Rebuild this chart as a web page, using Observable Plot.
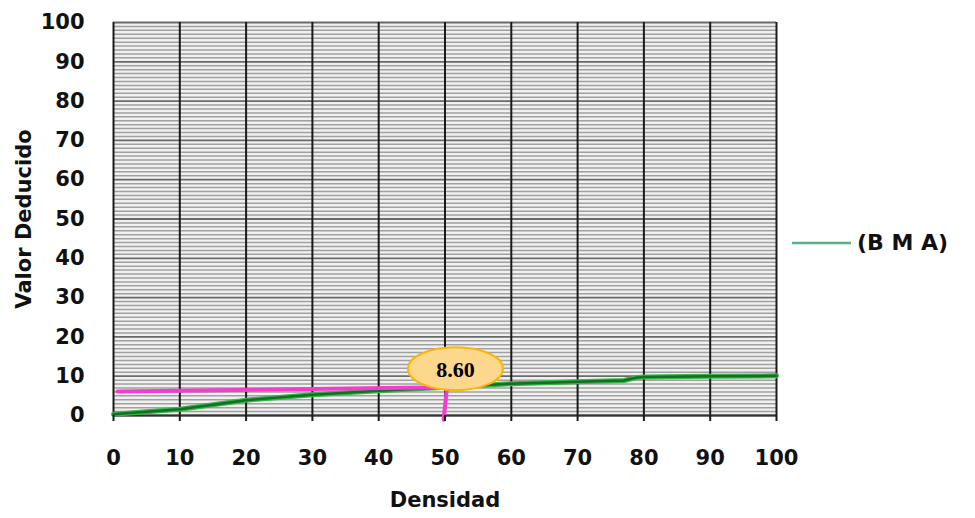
<!DOCTYPE html>
<html>
<head>
<meta charset="utf-8">
<script src="https://cdn.jsdelivr.net/npm/d3@7"></script>
<script src="https://cdn.jsdelivr.net/npm/@observablehq/plot@0.6"></script>
<style>
  body { margin: 0; background: #fff; }
  #chart { position: relative; width: 975px; height: 518px; }
  .legend { position: absolute; left: 791px; top: 230px; display: flex; align-items: center;
            font: bold 22px "DejaVu Sans", sans-serif; color: #111; }
  .legend svg { margin-right: 5px; }
</style>
</head>
<body>
<div id="chart"></div>
<script>
// Deduct-value curve for the (B M A) distress, read against density (%)
const densidad      = [0,   10,  20,  30,  40,  50,  60,  70,  77,  79,  80,  90,   100];
const valorDeducido = [0.3, 1.6, 3.9, 5.3, 6.3, 7.2, 8.1, 8.6, 8.9, 9.7, 9.8, 10.0, 10.1];

// Reading lines drawn by hand on the chart (density 50)
const lecturaHorizX = [0.6, 50];
const lecturaHorizY = [6.1, 7.2];
const lecturaVertX  = [50.3, 49.8];
const lecturaVertY  = [7.2, -1.1];

// Callout with the value
const etiquetaX = 50;
const etiquetaY = 8.60;
const etiquetaTexto = "8.60";

// Axes
const xTicks = [0, 10, 20, 30, 40, 50, 60, 70, 80, 90, 100];
const yTicks = [0, 10, 20, 30, 40, 50, 60, 70, 80, 90, 100];
const serieNombre = "(B M A)";

const curva = densidad.map((d, i) => ({x: d, y: valorDeducido[i]}));
const horiz = lecturaHorizX.map((d, i) => ({x: d, y: lecturaHorizY[i]}));
const vert  = lecturaVertX.map((d, i) => ({x: d, y: lecturaVertY[i]}));
const etiqueta = [{x: etiquetaX, y: etiquetaY, t: etiquetaTexto}];

// Ellipse-shaped symbol for the callout bubble
const ellipse = {
  draw(context) {
    const rx = 47.5, ry = 21.5, k = 0.5523;
    context.moveTo(rx, 0);
    context.bezierCurveTo(rx, ry * k, rx * k, ry, 0, ry);
    context.bezierCurveTo(-rx * k, ry, -rx, ry * k, -rx, 0);
    context.bezierCurveTo(-rx, -ry * k, -rx * k, -ry, 0, -ry);
    context.bezierCurveTo(rx * k, -ry, rx, -ry * k, rx, 0);
    context.closePath();
  }
};

const minor = d3.range(1, 100).filter(v => v % 10 !== 0);

const chart = Plot.plot({
  width: 975,
  height: 518,
  marginLeft: 113,
  marginRight: 199,
  marginTop: 22,
  marginBottom: 103,
  x: {domain: [0, 100]},
  y: {domain: [0, 100]},
  style: {fontFamily: "DejaVu Sans, sans-serif", fontSize: "21px", fontWeight: "bold", color: "#111", background: "#fff"},
  marks: [
    Plot.frame({fill: "#f0f0f0", stroke: null}),
    Plot.ruleY(minor, {stroke: "#a0a0a0", strokeWidth: 1.5}),
    Plot.ruleY(yTicks, {stroke: "#6a6a6a", strokeWidth: 1.8}),
    Plot.ruleX(xTicks, {stroke: "#1a1a1a", strokeWidth: 2}),
    Plot.ruleY([0], {stroke: "#333", strokeWidth: 2}),
    // green curve: soft outer stroke plus darker core
    Plot.line(curva, {x: "x", y: "y", stroke: "#36b447", strokeWidth: 5}),
    Plot.line(curva, {x: "x", y: "y", stroke: "#146e24", strokeWidth: 2.5}),
    Plot.line(horiz, {x: "x", y: "y", stroke: "#f23dd0", strokeWidth: 4}),
    Plot.line(vert,  {x: "x", y: "y", stroke: "#f23dd0", strokeWidth: 4}),
    Plot.dot(etiqueta, {x: "x", y: "y", symbol: ellipse, r: 10, dx: 10.5, dy: -13,
                        fill: "#fdd88c", stroke: "#f5b80a", strokeWidth: 2}),
    Plot.text(etiqueta, {x: "x", y: "y", text: "t", dx: 10.5, dy: -12,
                         fontFamily: "Liberation Serif, serif", fontWeight: "bold", fontSize: 22, fill: "#000"}),
    Plot.axisX({ticks: xTicks, tickSize: 6, tickPadding: 29, strokeWidth: 2, stroke: "#1a1a1a",
                label: "Densidad", labelAnchor: "center", labelOffset: 91, labelArrow: "none"}),
    Plot.axisY({ticks: yTicks, tickSize: 0, tickPadding: 29,
                label: "Valor Deducido", labelAnchor: "center", labelOffset: 97, labelArrow: "none"})
  ]
});

const root = document.getElementById("chart");
root.appendChild(chart);

// Series legend to the right of the plot
const legend = document.createElement("div");
legend.className = "legend";
legend.innerHTML = `<svg width="61" height="24"><line x1="1" x2="60" y1="12" y2="12" stroke="#52b386" stroke-width="2.5"/></svg><span>${serieNombre}</span>`;
root.appendChild(legend);
</script>
</body>
</html>
